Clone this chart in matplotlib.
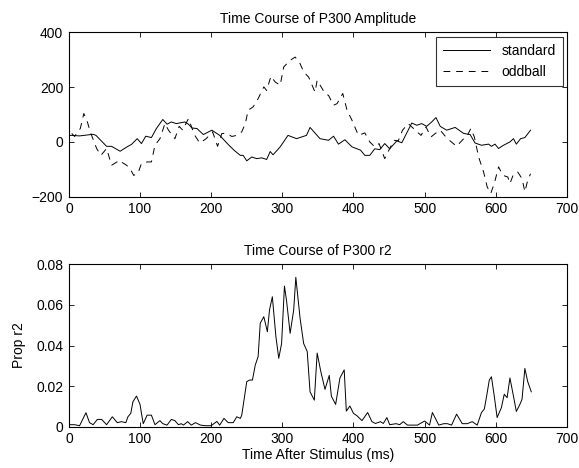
import matplotlib
matplotlib.use("Agg")
import matplotlib.pyplot as plt

plt.rcParams['font.family'] = ['Liberation Sans', 'DejaVu Sans']

std_t = [0, 4, 15, 34, 38, 53, 60, 72, 83, 88, 96, 102, 108, 116, 123, 132, 138, 144, 151, 163,
         168, 173, 180, 189, 201, 212, 222, 232, 241, 245, 250, 257, 264, 271, 278, 283, 287, 297,
         308, 320, 334, 339, 353, 365, 372, 379, 388, 398, 410, 416, 423, 430, 437, 444, 451, 461,
         468, 482, 489, 496, 503, 510, 516, 522, 531, 543, 555, 564, 571, 580, 590, 594, 599, 604,
         611, 620, 625, 629, 635, 641, 649]
std_v = [24, 24, 22, 28, 24, -16, -16, -34, -16, -9, 12, -6, 21, 16, 49, 82, 65, 73, 67, 73,
         65, 51, 49, 27, 43, 24, -4, -30, -49, -49, -69, -55, -61, -58, -64, -35, -47, -18,
         24, 12, 24, 53, 12, 6, 21, -8, 8, -18, -30, -49, -49, -25, -28, -6, -25, 4,
         -3, 69, 61, 67, 57, 73, 89, 57, 43, 53, 31, 27, -4, -12, -8, -16, -8, -24,
         -12, 0, 12, -8, 12, 16, 43]

odd_t = [4, 8, 16, 21, 26, 30, 39, 45, 53, 60, 64, 71, 76, 81, 86, 91, 97, 102, 110, 116,
         121, 128, 135, 140, 149, 155, 160, 168, 177, 184, 193, 202, 209, 215, 222, 229, 236,
         243, 248, 252, 259, 266, 274, 278, 284, 290, 297, 302, 311, 318, 324, 330, 337, 346,
         349, 356, 360, 365, 372, 377, 385, 391, 398, 407, 416, 423, 430, 436, 444, 451, 457,
         463, 469, 477, 487, 495, 502, 509, 515, 522, 528, 535, 545, 555, 559, 565, 570, 576,
         583, 588, 593, 598, 604, 610, 617, 620, 625, 631, 637, 641, 645, 649]
odd_v = [31, 20, 49, 104, 73, 37, -24, -49, -24, -85, -79, -67, -77, -85, -97, -122, -115, -79, -73, -73,
         -12, 12, 67, 43, 12, 57, 43, 85, 24, -4, 12, 37, -16, 31, 31, 20, 24,
         37, 67, 116, 128, 158, 201, 188, 240, 219, 207, 274, 298, 310, 292, 256, 237, 182,
         225, 195, 177, 170, 134, 140, 177, 116, 79, 24, 33, 0, -18, -6, -61, -24, 6,
         4, 43, 67, 43, 24, 55, 18, 31, 43, 24, 6, -16, 12, 18, 49, 18, -55,
         -110, -164, -188, -152, -91, -122, -128, -152, -118, -110, -134, -182, -140, -116]

r2_t = [0, 8, 15, 24, 29, 34, 40, 46, 53, 61, 68, 74, 80, 83, 87, 90, 95, 100, 102, 104.5,
        110, 116, 121, 128, 132, 138, 144, 149, 154, 158, 161, 167, 172, 178, 185, 192, 200,
        208, 212, 218, 224, 231, 236, 241, 243, 250, 254, 258, 262, 266, 269, 274, 279, 282,
        286, 291, 295, 299, 303, 306, 311, 316, 319, 325, 330, 335, 339, 345, 349, 354, 360,
        366, 369, 375, 381, 387, 390, 395, 400, 405, 412, 420, 426, 431, 438, 442, 447, 451,
        460, 465, 470, 476, 490, 500, 507, 511, 520, 527, 532, 538, 545, 553, 560, 567, 574,
        580, 584, 587, 591, 594, 598, 602, 608, 612, 616, 620, 625, 629, 634, 637, 641, 645, 650]
r2_v = [0.001, 0.001, 0.0005, 0.0069, 0.002, 0.001, 0.0036, 0.0036, 0.001, 0.0049, 0.002, 0.0025,
        0.002, 0.0049, 0.0066, 0.0123, 0.0151, 0.011, 0.0066, 0.0015,
        0.0057, 0.0057, 0.001, 0.003, 0.0015, 0.0008, 0.0036, 0.003, 0.001, 0.0015, 0.0008, 0.0025,
        0.0008, 0.002, 0.0008, 0.0005, 0.0005,
        0.0026, 0.0008, 0.0041, 0.002, 0.002, 0.0049, 0.0041, 0.0057, 0.0222, 0.023, 0.023, 0.0304,
        0.0345, 0.051, 0.0542, 0.0468, 0.0575,
        0.064, 0.0444, 0.0337, 0.041, 0.0693, 0.062, 0.046, 0.0575, 0.0736, 0.0534, 0.041, 0.0371,
        0.0172, 0.0131, 0.0363, 0.0274, 0.0184,
        0.0253, 0.015, 0.011, 0.024, 0.028, 0.0077, 0.0102, 0.0066, 0.0054, 0.003, 0.007, 0.0025,
        0.0016, 0.0025, 0.0016, 0.0045, 0.001,
        0.0015, 0.001, 0.0025, 0.0008, 0.0008, 0.0028, 0.0008, 0.007, 0.0008, 0.0015, 0.0015, 0.0008,
        0.0062, 0.0015, 0.0015, 0.0025, 0.0008,
        0.007, 0.0087, 0.0146, 0.023, 0.0246, 0.015, 0.0045, 0.0094, 0.016, 0.0143, 0.024, 0.015,
        0.0075, 0.011, 0.0135, 0.0287, 0.0222, 0.0172]

fig = plt.figure(figsize=(5.79, 4.68), dpi=100)
ax1 = fig.add_axes([0.119, 0.5797, 0.860, 0.351])
ax2 = fig.add_axes([0.119, 0.0882, 0.860, 0.347])

fs = 10
for ax in (ax1, ax2):
    ax.tick_params(direction='in', top=True, right=True, labelsize=fs, length=3.6, width=0.6, pad=4)
    for s in ax.spines.values():
        s.set_linewidth(0.8)
    ax.set_xlim(0, 700)
    ax.set_xticks([0, 100, 200, 300, 400, 500, 600, 700])

ax1.plot(std_t, std_v, color='black', lw=0.7, label='standard')
ax1.plot(odd_t, odd_v, color='black', lw=0.7, ls=(0, (7, 6)), label='oddball')
ax1.set_ylim(-200, 400)
ax1.set_yticks([-200, 0, 200, 400])
ax1.set_title('Time Course of P300 Amplitude', fontsize=fs, pad=6.5)
leg = ax1.legend(loc='upper right', fontsize=fs, frameon=True, fancybox=False,
                 edgecolor='black', handlelength=3.4, handletextpad=0.8,
                 borderaxespad=0.3, labelspacing=0.55, borderpad=0.5)
leg.get_frame().set_linewidth(0.8)

ax2.plot(r2_t, r2_v, color='black', lw=0.7)
ax2.set_ylim(0, 0.08)
ax2.set_yticks([0, 0.02, 0.04, 0.06, 0.08])
ax2.set_yticklabels(['0', '0.02', '0.04', '0.06', '0.08'])
ax2.set_title('Time Course of P300 r2', fontsize=fs, pad=6.5)
ax2.set_xlabel('Time After Stimulus (ms)', fontsize=fs, labelpad=1)
ax2.set_ylabel('Prop r2', fontsize=fs, labelpad=7)

fig.savefig('out.png', dpi=100)
